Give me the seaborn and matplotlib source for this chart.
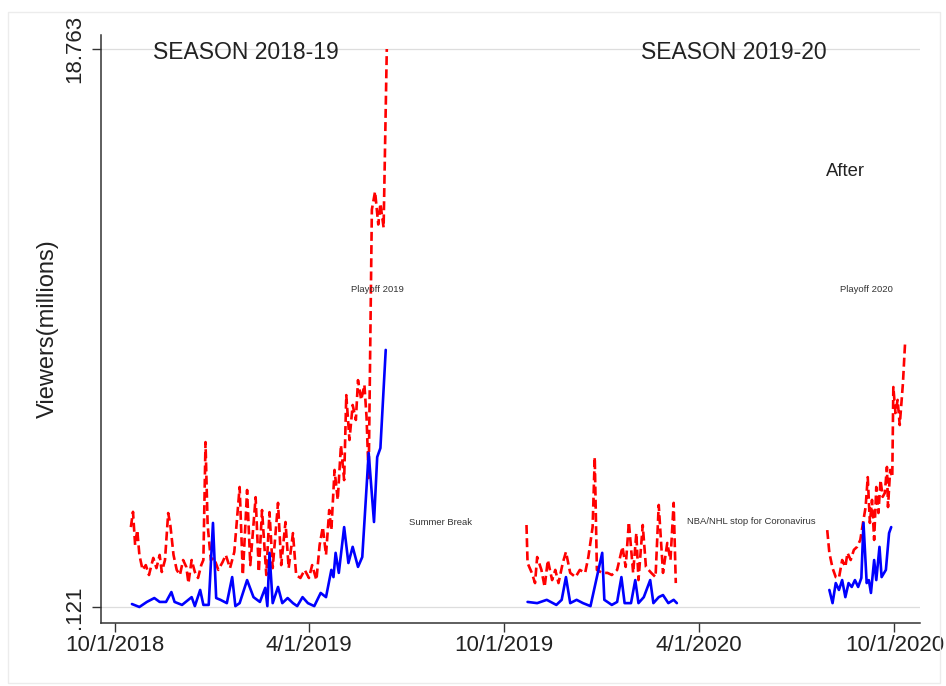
import pandas as pd
import matplotlib.pyplot as plt
import matplotlib.dates as mdates
import seaborn as sns

# audience per game day, millions (red dashed = NBA, blue solid = NHL)
nba_dates_1819 = [
    "2018-10-16", "2018-10-18", "2018-10-20", "2018-10-22", "2018-10-24", "2018-10-27",
    "2018-10-30", "2018-11-02", "2018-11-06", "2018-11-09", "2018-11-12", "2018-11-14",
    "2018-11-17", "2018-11-20", "2018-11-22", "2018-11-25", "2018-11-28", "2018-12-01",
    "2018-12-04", "2018-12-07", "2018-12-09", "2018-12-12", "2018-12-15", "2018-12-18",
    "2018-12-21", "2018-12-23", "2018-12-25", "2018-12-27", "2018-12-30", "2019-01-02",
    "2019-01-06", "2019-01-10", "2019-01-13", "2019-01-17", "2019-01-21", "2019-01-26",
    "2019-01-29", "2019-02-02", "2019-02-05", "2019-02-10", "2019-02-13", "2019-02-16",
    "2019-02-20", "2019-02-23", "2019-02-26", "2019-03-03", "2019-03-06", "2019-03-10",
    "2019-03-13", "2019-03-17", "2019-03-20", "2019-03-24", "2019-03-28", "2019-04-01",
    "2019-04-04", "2019-04-08", "2019-04-11", "2019-04-14", "2019-04-17", "2019-04-20",
    "2019-04-22", "2019-04-25", "2019-04-28", "2019-05-01", "2019-05-04", "2019-05-06",
    "2019-05-09", "2019-05-12", "2019-05-15", "2019-05-17", "2019-05-20", "2019-05-23",
    "2019-05-25", "2019-05-27", "2019-05-30", "2019-06-02", "2019-06-05", "2019-06-07",
    "2019-06-10", "2019-06-13",
]
nba_views_1819 = [
    2.79, 3.30, 2.19, 2.69, 1.86, 1.36,
    1.52, 1.19, 1.76, 1.42, 1.86, 1.29,
    1.69, 3.26, 2.86, 1.86, 1.36, 1.19,
    1.69, 1.46, 0.92, 1.69, 1.29, 1.09,
    1.52, 1.69, 5.63, 2.86, 1.69, 1.76,
    1.36, 1.62, 1.86, 1.42, 1.96, 4.13,
    1.19, 4.03, 1.52, 3.79, 1.29, 3.36,
    1.19, 3.29, 1.42, 3.60, 1.52, 2.96,
    1.42, 2.59, 1.19, 1.09, 1.36, 1.09,
    1.52, 1.02, 2.19, 2.79, 1.86, 3.36,
    2.69, 4.70, 3.70, 5.53, 4.36, 7.20,
    5.70, 6.87, 6.37, 7.70, 7.04, 7.54,
    6.47, 4.43, 13.4, 14.0, 12.9, 13.6,
    12.8, 18.763,
]

nhl_dates_1819 = [
    "2018-10-17", "2018-10-24", "2018-10-31", "2018-11-07", "2018-11-12", "2018-11-18",
    "2018-11-23", "2018-11-26", "2018-12-03", "2018-12-12", "2018-12-15", "2018-12-20",
    "2018-12-23", "2018-12-28", "2019-01-01", "2019-01-04", "2019-01-08", "2019-01-14",
    "2019-01-19", "2019-01-22", "2019-01-26", "2019-02-02", "2019-02-08", "2019-02-14",
    "2019-02-19", "2019-02-21", "2019-02-23", "2019-02-26", "2019-03-03", "2019-03-07",
    "2019-03-12", "2019-03-17", "2019-03-21", "2019-03-26", "2019-03-31", "2019-04-06",
    "2019-04-12", "2019-04-17", "2019-04-22", "2019-04-24", "2019-04-26", "2019-04-29",
    "2019-05-04", "2019-05-08", "2019-05-12", "2019-05-17", "2019-05-21", "2019-05-27",
    "2019-06-01", "2019-06-04", "2019-06-07", "2019-06-12",
]
nhl_views_1819 = [
    0.22, 0.121, 0.29, 0.42, 0.29, 0.29,
    0.62, 0.29, 0.19, 0.45, 0.15, 0.69,
    0.19, 0.19, 2.93, 0.42, 0.36, 0.25,
    1.12, 0.15, 0.25, 1.02, 0.45, 0.29,
    0.76, 0.15, 1.93, 0.25, 0.79, 0.25,
    0.42, 0.25, 0.15, 0.45, 0.25, 0.15,
    0.59, 0.45, 1.36, 1.12, 1.93, 1.26,
    2.79, 1.59, 2.13, 1.46, 1.79, 5.27,
    2.96, 5.13, 5.43, 8.71,
]

nba_dates_1920 = [
    "2019-10-22", "2019-10-23", "2019-10-27", "2019-10-30", "2019-11-01", "2019-11-05",
    "2019-11-08", "2019-11-11", "2019-11-15", "2019-11-18", "2019-11-21", "2019-11-25",
    "2019-11-28", "2019-12-02", "2019-12-07", "2019-12-11", "2019-12-16", "2019-12-19",
    "2019-12-23", "2019-12-25", "2019-12-27", "2020-01-01", "2020-01-06", "2020-01-10",
    "2020-01-15", "2020-01-20", "2020-01-23", "2020-01-26", "2020-01-30", "2020-02-02",
    "2020-02-04", "2020-02-08", "2020-02-11", "2020-02-16", "2020-02-20", "2020-02-23",
    "2020-02-27", "2020-03-02", "2020-03-05", "2020-03-08", "2020-03-10",
]
nba_views_1920 = [
    2.86, 1.59, 1.26, 0.92, 1.79, 1.36,
    0.79, 1.69, 1.02, 1.36, 0.92, 1.59,
    1.96, 1.26, 1.12, 1.36, 1.26, 1.79,
    2.79, 5.13, 1.36, 1.26, 1.26, 1.19,
    1.36, 2.13, 1.46, 2.96, 1.26, 2.59,
    1.02, 2.86, 1.46, 1.26, 1.12, 3.53,
    1.26, 2.26, 1.69, 3.60, 0.92,
]

nhl_dates_1920 = [
    "2019-10-23", "2019-11-01", "2019-11-10", "2019-11-19", "2019-11-24", "2019-11-28",
    "2019-12-02", "2019-12-08", "2019-12-14", "2019-12-21", "2020-01-01", "2020-01-03",
    "2020-01-10", "2020-01-15", "2020-01-19", "2020-01-22", "2020-01-28", "2020-02-01",
    "2020-02-04", "2020-02-09", "2020-02-15", "2020-02-18", "2020-02-23", "2020-02-27",
    "2020-03-03", "2020-03-08", "2020-03-11",
]
nhl_views_1920 = [
    0.29, 0.25, 0.36, 0.19, 0.36, 1.12,
    0.25, 0.36, 0.25, 0.15, 1.93, 0.36,
    0.19, 0.29, 1.12, 0.25, 0.25, 1.02,
    0.25, 0.45, 1.02, 0.25, 0.45, 0.52,
    0.25, 0.36, 0.25,
]

nba_dates_2020 = [
    "2020-07-30", "2020-08-01", "2020-08-04", "2020-08-07", "2020-08-10", "2020-08-13",
    "2020-08-16", "2020-08-18", "2020-08-21", "2020-08-24", "2020-08-27", "2020-08-30",
    "2020-09-02", "2020-09-04", "2020-09-06", "2020-09-08", "2020-09-10", "2020-09-12",
    "2020-09-14", "2020-09-16", "2020-09-18", "2020-09-20", "2020-09-22", "2020-09-24",
    "2020-09-25", "2020-09-27", "2020-09-29", "2020-09-30", "2020-10-02", "2020-10-04",
    "2020-10-06", "2020-10-09", "2020-10-11",
]
nba_views_2020 = [
    2.69, 1.93, 1.42, 1.12, 1.09, 1.69,
    1.46, 1.93, 1.69, 2.03, 2.13, 2.36,
    3.03, 3.46, 4.46, 2.93, 3.70, 2.36,
    4.13, 3.26, 4.36, 3.80, 3.93, 4.80,
    3.46, 4.70, 4.46, 7.47, 6.60, 7.04,
    6.20, 7.60, 8.94,
]

nhl_dates_2020 = [
    "2020-08-01", "2020-08-04", "2020-08-07", "2020-08-10", "2020-08-13", "2020-08-16",
    "2020-08-19", "2020-08-22", "2020-08-25", "2020-08-28", "2020-08-31", "2020-09-02",
    "2020-09-05", "2020-09-07", "2020-09-09", "2020-09-12", "2020-09-14", "2020-09-17",
    "2020-09-19", "2020-09-23", "2020-09-26", "2020-09-28",
]
nhl_views_2020 = [
    0.69, 0.25, 0.92, 0.69, 1.02, 0.45,
    0.92, 0.79, 1.02, 0.79, 1.09, 2.93,
    0.92, 1.02, 0.59, 1.69, 1.02, 2.13,
    1.12, 1.36, 2.59, 2.79,
]

x_ticks = ["2018-10-01", "2019-04-01", "2019-10-01", "2020-04-01", "2020-10-01"]
x_tick_labels = ["10/1/2018", "4/1/2019", "10/1/2019", "4/1/2020", "10/1/2020"]
y_ticks = [0.121, 18.763]
y_tick_labels = [".121", "18.763"]

# ---------------------------------------------------------------
# long table, one "season" unit per segment so the gaps stay open
# ---------------------------------------------------------------
partes = [
    ("NBA", "2018-19", nba_dates_1819, nba_views_1819),
    ("NHL", "2018-19", nhl_dates_1819, nhl_views_1819),
    ("NBA", "2019-20", nba_dates_1920, nba_views_1920),
    ("NHL", "2019-20", nhl_dates_1920, nhl_views_1920),
    ("NBA", "bubble", nba_dates_2020, nba_views_2020),
    ("NHL", "bubble", nhl_dates_2020, nhl_views_2020),
]
linhas = []
for liga, temporada, datas, valores in partes:
    for d, v in zip(datas, valores):
        linhas.append({"date": pd.Timestamp(d), "viewers": v, "league": liga, "season": temporada})
df = pd.DataFrame(linhas)

sns.set_theme(style="ticks")
plt.rcParams["font.family"] = ["Liberation Sans", "DejaVu Sans"]

fig = plt.figure(figsize=(9.46, 6.86), dpi=100)
ax = fig.add_axes([101 / 946, 63 / 686, 819 / 946, 588 / 686])

sns.lineplot(
    data=df, x="date", y="viewers", hue="league", style="league", units="season",
    estimator=None, sort=False, hue_order=["NBA", "NHL"], style_order=["NBA", "NHL"],
    palette={"NBA": "#ff0000", "NHL": "#0000ff"},
    dashes={"NBA": (3.4, 1.6), "NHL": ""},
    linewidth=1.9, legend=False, ax=ax,
)

ax.set_xlim(pd.Timestamp("2018-09-18"), pd.Timestamp("2020-10-25"))
ax.set_ylim(-0.414, 19.231)

ax.set_xticks([mdates.date2num(pd.Timestamp(t)) for t in x_ticks])
ax.set_xticklabels(x_tick_labels, fontsize=16, color="#222222")
ax.set_yticks(y_ticks)
ax.set_yticklabels(y_tick_labels, fontsize=16, color="#222222", rotation=90, va="center")
ax.tick_params(axis="both", length=6.5, width=1.0, color="#333333")
ax.tick_params(axis="x", pad=2)
ax.tick_params(axis="y", pad=5)

ax.yaxis.grid(True, color="#dddddd", linewidth=0.9)
ax.xaxis.grid(False)
ax.set_axisbelow(True)

ax.set_xlabel("")
ax.set_ylabel("Viewers(millions)", fontsize=17, color="#222222")
ax.yaxis.set_label_coords(-0.051, 0.5)

sns.despine(ax=ax)
for lado in ["left", "bottom"]:
    ax.spines[lado].set_color("#333333")
    ax.spines[lado].set_linewidth(1.1)


def d(s):
    return mdates.date2num(pd.Timestamp(s))


ax.text(d("2019-02-01"), 18.43, "SEASON 2018-19", ha="center", va="baseline", fontsize=16.5, color="#222222")
ax.text(d("2020-05-03"), 18.43, "SEASON 2019-20", ha="center", va="baseline", fontsize=16.5, color="#222222")
ax.text(d("2020-08-16"), 14.52, "After", ha="center", va="baseline", fontsize=13.3, color="#222222")
ax.text(d("2019-06-04"), 10.64, "Playoff 2019", ha="center", va="baseline", fontsize=6.8, color="#333333")
ax.text(d("2020-09-05"), 10.64, "Playoff 2020", ha="center", va="baseline", fontsize=6.8, color="#333333")
ax.text(d("2019-08-02"), 2.86, "Summer Break", ha="center", va="baseline", fontsize=6.8, color="#333333")
ax.text(d("2020-05-20"), 2.89, "NBA/NHL stop for Coronavirus", ha="center", va="baseline",
        fontsize=6.8, color="#333333")

# moldura clarinha em volta da figura
fig.add_artist(plt.Rectangle((8 / 946, 3 / 686), 932 / 946, 671 / 686, transform=fig.transFigure,
                             fill=False, edgecolor="#ececec", linewidth=1.0))

fig.savefig("out.png", dpi=100, facecolor="white")
